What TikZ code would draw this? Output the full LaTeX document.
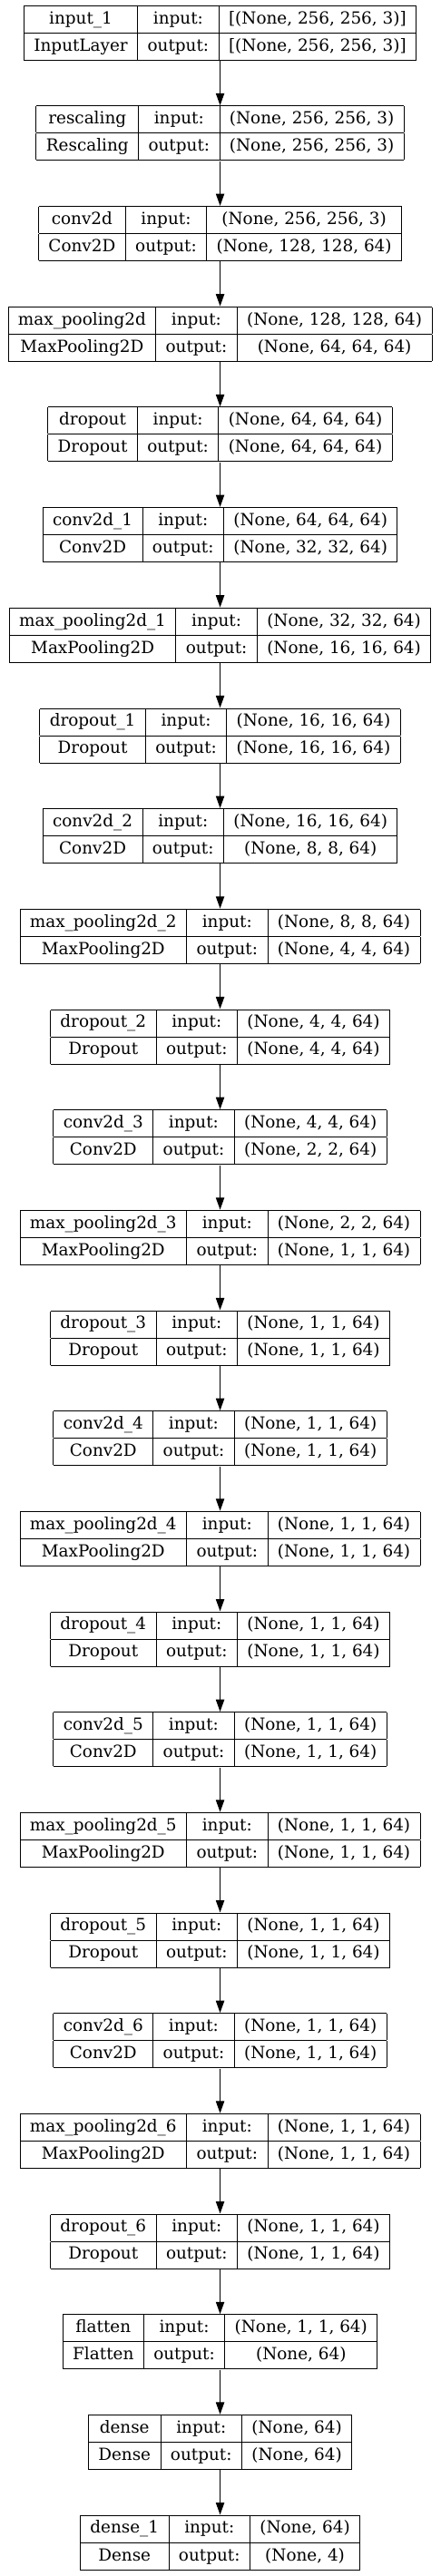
\documentclass[tikz,border=0pt]{standalone}
\usepackage{fontspec}
\setmainfont{DejaVu Serif}
\usetikzlibrary{arrows.meta}

\setlength{\tabcolsep}{8.2pt}
\setlength{\arrayrulewidth}{0.75pt}
\newcommand{\rowstrut}{\rule[-7.3pt]{0pt}{21.75pt}}
\newcommand{\layerbox}[4]{%
  \begin{tabular}{|c|c|c|}\hline
    \rowstrut#1 & input: & #3\\\hline
    \rowstrut#2 & output: & #4\\\hline
  \end{tabular}}

\tikzset{
  layer/.style={inner sep=0pt, font=\fontsize{13.8pt}{10pt}\selectfont},
  flow/.style={-{Triangle[length=10pt,width=7pt]}, line width=0.75pt}
}

\begin{document}
\begin{tikzpicture}[y=83pt]
      \useasboundingbox (-181.9pt,27.2pt) rectangle (181.9pt,-2102.6pt);
      \draw
        (0,0) node[layer] (input1) {\layerbox{input\_1}{InputLayer}{[(None, 256, 256, 3)]}{[(None, 256, 256, 3)]}}
        (0,-1) node[layer] (rescaling) {\layerbox{rescaling}{Rescaling}{(None, 256, 256, 3)}{(None, 256, 256, 3)}}
        (0,-2) node[layer] (conv2d) {\layerbox{conv2d}{Conv2D}{(None, 256, 256, 3)}{(None, 128, 128, 64)}}
        (0,-3) node[layer] (maxpool) {\layerbox{max\_pooling2d}{MaxPooling2D}{(None, 128, 128, 64)}{(None, 64, 64, 64)}}
        (0,-4) node[layer] (dropout) {\layerbox{dropout}{Dropout}{(None, 64, 64, 64)}{(None, 64, 64, 64)}}
        (0,-5) node[layer] (conv2d1) {\layerbox{conv2d\_1}{Conv2D}{(None, 64, 64, 64)}{(None, 32, 32, 64)}}
        (0,-6) node[layer] (maxpool1) {\layerbox{max\_pooling2d\_1}{MaxPooling2D}{(None, 32, 32, 64)}{(None, 16, 16, 64)}}
        (0,-7) node[layer] (dropout1) {\layerbox{dropout\_1}{Dropout}{(None, 16, 16, 64)}{(None, 16, 16, 64)}}
        (0,-8) node[layer] (conv2d2) {\layerbox{conv2d\_2}{Conv2D}{(None, 16, 16, 64)}{(None, 8, 8, 64)}}
        (0,-9) node[layer] (maxpool2) {\layerbox{max\_pooling2d\_2}{MaxPooling2D}{(None, 8, 8, 64)}{(None, 4, 4, 64)}}
        (0,-10) node[layer] (dropout2) {\layerbox{dropout\_2}{Dropout}{(None, 4, 4, 64)}{(None, 4, 4, 64)}}
        (0,-11) node[layer] (conv2d3) {\layerbox{conv2d\_3}{Conv2D}{(None, 4, 4, 64)}{(None, 2, 2, 64)}}
        (0,-12) node[layer] (maxpool3) {\layerbox{max\_pooling2d\_3}{MaxPooling2D}{(None, 2, 2, 64)}{(None, 1, 1, 64)}}
        (0,-13) node[layer] (dropout3) {\layerbox{dropout\_3}{Dropout}{(None, 1, 1, 64)}{(None, 1, 1, 64)}}
        (0,-14) node[layer] (conv2d4) {\layerbox{conv2d\_4}{Conv2D}{(None, 1, 1, 64)}{(None, 1, 1, 64)}}
        (0,-15) node[layer] (maxpool4) {\layerbox{max\_pooling2d\_4}{MaxPooling2D}{(None, 1, 1, 64)}{(None, 1, 1, 64)}}
        (0,-16) node[layer] (dropout4) {\layerbox{dropout\_4}{Dropout}{(None, 1, 1, 64)}{(None, 1, 1, 64)}}
        (0,-17) node[layer] (conv2d5) {\layerbox{conv2d\_5}{Conv2D}{(None, 1, 1, 64)}{(None, 1, 1, 64)}}
        (0,-18) node[layer] (maxpool5) {\layerbox{max\_pooling2d\_5}{MaxPooling2D}{(None, 1, 1, 64)}{(None, 1, 1, 64)}}
        (0,-19) node[layer] (dropout5) {\layerbox{dropout\_5}{Dropout}{(None, 1, 1, 64)}{(None, 1, 1, 64)}}
        (0,-20) node[layer] (conv2d6) {\layerbox{conv2d\_6}{Conv2D}{(None, 1, 1, 64)}{(None, 1, 1, 64)}}
        (0,-21) node[layer] (maxpool6) {\layerbox{max\_pooling2d\_6}{MaxPooling2D}{(None, 1, 1, 64)}{(None, 1, 1, 64)}}
        (0,-22) node[layer] (dropout6) {\layerbox{dropout\_6}{Dropout}{(None, 1, 1, 64)}{(None, 1, 1, 64)}}
        (0,-23) node[layer] (flatten) {\layerbox{flatten}{Flatten}{(None, 1, 1, 64)}{(None, 64)}}
        (0,-24) node[layer] (dense) {\layerbox{dense}{Dense}{(None, 64)}{(None, 64)}}
        (0,-25) node[layer] (dense1) {\layerbox{dense\_1}{Dense}{(None, 64)}{(None, 4)}};
      \begin{scope}[flow]
        \draw (input1) to (rescaling);
        \draw (rescaling) to (conv2d);
        \draw (conv2d) to (maxpool);
        \draw (maxpool) to (dropout);
        \draw (dropout) to (conv2d1);
        \draw (conv2d1) to (maxpool1);
        \draw (maxpool1) to (dropout1);
        \draw (dropout1) to (conv2d2);
        \draw (conv2d2) to (maxpool2);
        \draw (maxpool2) to (dropout2);
        \draw (dropout2) to (conv2d3);
        \draw (conv2d3) to (maxpool3);
        \draw (maxpool3) to (dropout3);
        \draw (dropout3) to (conv2d4);
        \draw (conv2d4) to (maxpool4);
        \draw (maxpool4) to (dropout4);
        \draw (dropout4) to (conv2d5);
        \draw (conv2d5) to (maxpool5);
        \draw (maxpool5) to (dropout5);
        \draw (dropout5) to (conv2d6);
        \draw (conv2d6) to (maxpool6);
        \draw (maxpool6) to (dropout6);
        \draw (dropout6) to (flatten);
        \draw (flatten) to (dense);
        \draw (dense) to (dense1);
      \end{scope}
    \end{tikzpicture}
\end{document}
